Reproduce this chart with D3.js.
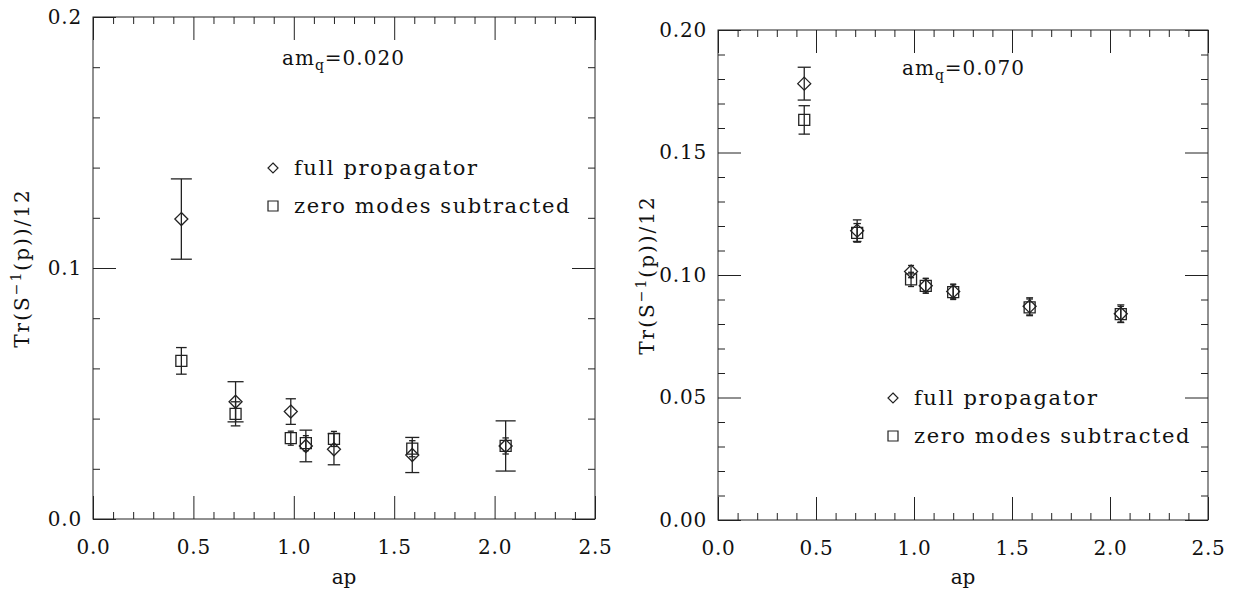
<!DOCTYPE html>
<html>
<head>
<meta charset="utf-8">
<script src="https://cdn.jsdelivr.net/npm/d3@7"></script>
<style>
  html, body { margin: 0; padding: 0; background: #fff; }
  svg text { font-family: "DejaVu Serif", serif; fill: #111; }
</style>
</head>
<body>
<svg id="chart" width="1233" height="589"></svg>
<script>
// Lattice momenta (ap) shared by both quark masses
const apValues = [0.44, 0.71, 0.985, 1.06, 1.20, 1.59, 2.055];

// am_q = 0.020
const fullLeft     = [0.1195, 0.0467, 0.0428, 0.0291, 0.0278, 0.0255, 0.0291];
const fullLeftErr  = [0.0160, 0.0080, 0.0051, 0.0063, 0.0062, 0.0070, 0.0100];
const zeroLeft     = [0.0630, 0.0419, 0.0322, 0.0302, 0.0319, 0.0280, 0.0291];
const zeroLeftErr  = [0.0053, 0.0048, 0.0028, 0.0030, 0.0030, 0.0032, 0.0032];

// am_q = 0.070
const fullRight    = [0.1781, 0.1181, 0.1014, 0.0956, 0.0933, 0.0872, 0.0842];
const fullRightErr = [0.0067, 0.0044, 0.0025, 0.0030, 0.0030, 0.0035, 0.0036];
const zeroRight    = [0.1633, 0.1172, 0.0982, 0.0956, 0.0930, 0.0868, 0.0840];
const zeroRightErr = [0.0058, 0.0038, 0.0029, 0.0030, 0.0030, 0.0034, 0.0032];

const massLabels = ["0.020", "0.070"];
const legendLabels = ["full propagator", "zero modes subtracted"];
const xTickLabels = [0, 0.5, 1.0, 1.5, 2.0, 2.5];

const svg = d3.select("#chart");
const INK = "#222";

const panels = [
  { x0: 93,  x1: 595,  y0: 17, y1: 519, yMax: 0.2, major: 0.1,  minor: 0.02, fmt: ".1f",
    full: fullLeft, fullErr: fullLeftErr, zero: zeroLeft, zeroErr: zeroLeftErr,
    mass: massLabels[0], massPos: [282, 65], legend: [273, 168, 38], ylabX: 29 },
  { x0: 718, x1: 1208, y0: 30, y1: 520, yMax: 0.2, major: 0.05, minor: 0.01, fmt: ".2f",
    full: fullRight, fullErr: fullRightErr, zero: zeroRight, zeroErr: zeroRightErr,
    mass: massLabels[1], massPos: [902, 75], legend: [893, 398, 38], ylabX: 654 }
];

function diamondPath(r) {
  return `M0,${-r}L${r},0L0,${r}L${-r},0Z`;
}
function squarePath(r) {
  return `M${-r},${-r}H${r}V${r}H${-r}Z`;
}

function ticksBetween(lo, hi, step, skip) {
  const n = Math.round((hi - lo) / step);
  const out = [];
  for (let i = 0; i <= n; i++) {
    const v = +(lo + i * step).toFixed(6);
    const isMajor = Math.abs(v / skip - Math.round(v / skip)) < 1e-6;
    if (!isMajor) out.push(v);
  }
  return out;
}

panels.forEach(p => {
  const x = d3.scaleLinear().domain([0, 2.5]).range([p.x0, p.x1]);
  const y = d3.scaleLinear().domain([0, p.yMax]).range([p.y1, p.y0]);
  const g = svg.append("g");

  const yMajor = d3.range(0, p.yMax + 1e-9, p.major).map(v => +v.toFixed(6));
  const yMinor = ticksBetween(0, p.yMax, p.minor, p.major);
  const xMinor = ticksBetween(0, 2.5, 0.1, 0.5);

  function styleAxis(sel) {
    sel.select(".domain").remove();
    sel.selectAll("line").attr("stroke", INK).attr("stroke-width", 1);
    sel.selectAll("text").attr("font-size", 20).attr("fill", "#111")
       .attr("font-family", "DejaVu Serif, serif").attr("letter-spacing", 0.8);
  }

  // Bottom axis with labels
  g.append("g").attr("transform", `translate(0,${p.y1})`)
    .call(d3.axisBottom(x).tickValues(xTickLabels).tickSize(-23).tickPadding(21)
      .tickFormat(d3.format(".1f")))
    .call(styleAxis);
  g.append("g").attr("transform", `translate(0,${p.y1})`)
    .call(d3.axisBottom(x).tickValues(xMinor).tickSize(-7).tickFormat(""))
    .call(styleAxis);
  // Top mirror
  g.append("g").attr("transform", `translate(0,${p.y0})`)
    .call(d3.axisTop(x).tickValues(xTickLabels).tickSize(-23).tickFormat(""))
    .call(styleAxis);
  g.append("g").attr("transform", `translate(0,${p.y0})`)
    .call(d3.axisTop(x).tickValues(xMinor).tickSize(-7).tickFormat(""))
    .call(styleAxis);
  // Left axis with labels
  g.append("g").attr("transform", `translate(${p.x0},0)`)
    .call(d3.axisLeft(y).tickValues(yMajor).tickSize(-23).tickPadding(11)
      .tickFormat(d3.format(p.fmt)))
    .call(styleAxis);
  g.append("g").attr("transform", `translate(${p.x0},0)`)
    .call(d3.axisLeft(y).tickValues(yMinor).tickSize(-7).tickFormat(""))
    .call(styleAxis);
  // Right mirror
  g.append("g").attr("transform", `translate(${p.x1},0)`)
    .call(d3.axisRight(y).tickValues(yMajor).tickSize(-23).tickFormat(""))
    .call(styleAxis);
  g.append("g").attr("transform", `translate(${p.x1},0)`)
    .call(d3.axisRight(y).tickValues(yMinor).tickSize(-7).tickFormat(""))
    .call(styleAxis);

  // Frame
  g.append("rect")
    .attr("x", p.x0).attr("y", p.y0)
    .attr("width", p.x1 - p.x0).attr("height", p.y1 - p.y0)
    .attr("fill", "none").attr("stroke", INK).attr("stroke-width", 1);

  // Axis titles
  g.append("text")
    .attr("x", (p.x0 + p.x1) / 2).attr("y", 584)
    .attr("text-anchor", "middle").attr("font-size", 20).text("ap");

  const yl = g.append("text")
    .attr("transform", `translate(${p.ylabX},${(p.y0 + p.y1) / 2}) rotate(-90)`)
    .attr("text-anchor", "middle").attr("font-size", 20).attr("letter-spacing", 2);
  yl.append("tspan").text("Tr(S");
  yl.append("tspan").attr("font-size", 14).attr("dy", -8).text("\u22121");
  yl.append("tspan").attr("dy", 8).text("(p))/12");

  // Quark mass label
  const ml = g.append("text")
    .attr("x", p.massPos[0]).attr("y", p.massPos[1]).attr("font-size", 20)
    .attr("letter-spacing", 1);
  ml.append("tspan").text("am");
  ml.append("tspan").attr("font-size", 14).attr("dy", 5).text("q");
  ml.append("tspan").attr("dy", -5).text("=" + p.mass);

  // Data: error bars and markers
  const series = [
    { vals: p.full, errs: p.fullErr, shape: diamondPath(6.5) },
    { vals: p.zero, errs: p.zeroErr, shape: squarePath(5.5) }
  ];
  series.forEach(s => {
    apValues.forEach((ap, i) => {
      const cx = x(ap), cy = y(s.vals[i]);
      const yt = y(s.vals[i] + s.errs[i]), yb = y(s.vals[i] - s.errs[i]);
      const half = Math.max(3, Math.min(10.5, 0.4 * (yb - yt) / 2));
      g.append("line").attr("x1", cx).attr("x2", cx).attr("y1", yt).attr("y2", yb)
        .attr("stroke", INK).attr("stroke-width", 1.3);
      [yt, yb].forEach(yy => {
        g.append("line").attr("x1", cx - half).attr("x2", cx + half)
          .attr("y1", yy).attr("y2", yy)
          .attr("stroke", INK).attr("stroke-width", 1.3);
      });
      g.append("path").attr("d", s.shape)
        .attr("transform", `translate(${cx},${cy})`)
        .attr("fill", "none").attr("stroke", INK).attr("stroke-width", 1.3);
    });
  });

  // Legend
  const [lx, ly, gap] = p.legend;
  [diamondPath(5), squarePath(5)].forEach((shape, k) => {
    g.append("path").attr("d", shape)
      .attr("transform", `translate(${lx},${ly + k * gap})`)
      .attr("fill", "none").attr("stroke", INK).attr("stroke-width", 1.2);
    g.append("text").attr("x", lx + 21).attr("y", ly + k * gap + 7)
      .attr("font-size", 21).attr("letter-spacing", 1.6).text(legendLabels[k]);
  });
});
</script>
</body>
</html>
